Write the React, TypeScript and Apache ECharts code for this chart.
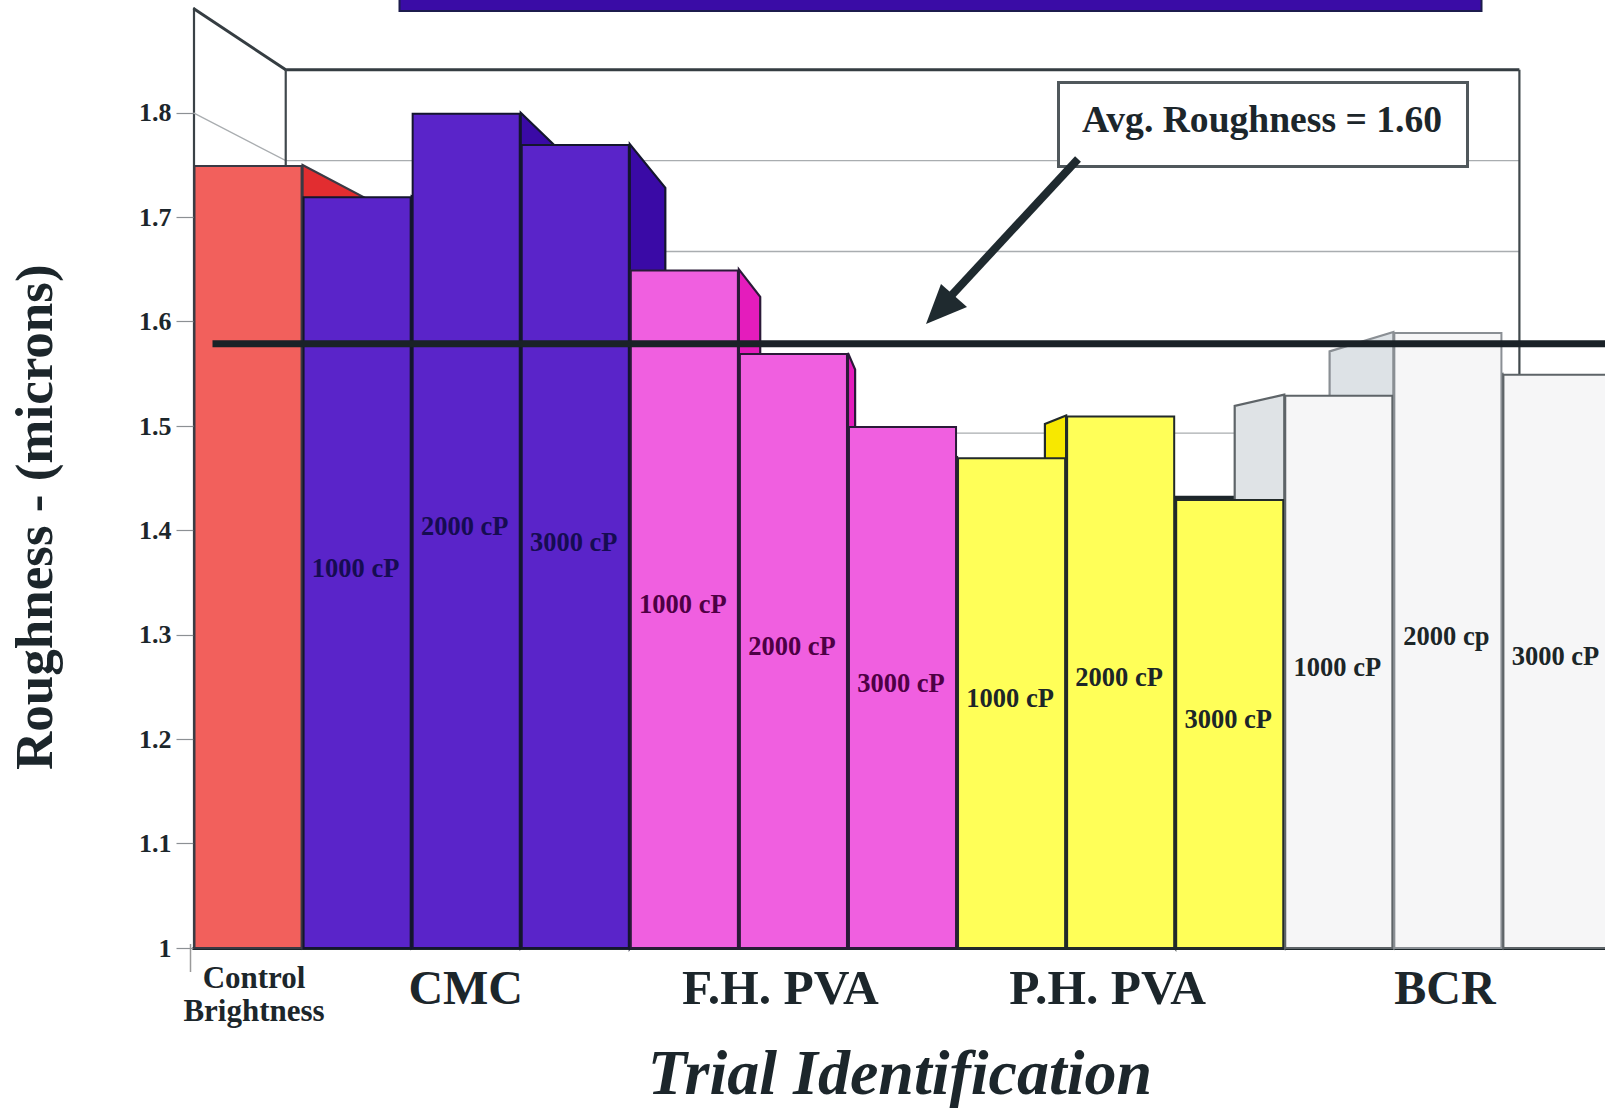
import React, { useEffect, useRef } from "react";
import * as echarts from "echarts";

// Roughness per trial, left to right.
const trialNames = ["Control", "CMC 1000", "CMC 2000", "CMC 3000", "FH 1000", "FH 2000", "FH 3000", "PH 1000", "PH 2000", "PH 3000", "BCR 1000", "BCR 2000", "BCR 3000"];
const roughness = [1.75, 1.72, 1.8, 1.77, 1.65, 1.57, 1.5, 1.47, 1.51, 1.43, 1.53, 1.59, 1.55];
const barLabels = ["", "1000 cP", "2000 cP", "3000 cP", "1000 cP", "2000 cP", "3000 cP", "1000 cP", "2000 cP", "3000 cP", "1000 cP", "2000 cp", "3000 cP"];
const groupLabels = ["{ctl|Control}\n{ctl|Brightness}", "", "{cmc|CMC}", "", "", "{fh|F.H. PVA}", "", "", "{ph|P.H. PVA}", "", "", "{bcr|BCR}", ""];

// Appearance of each trial group.
const frontColors = ["#f2605c", "#5a24c9", "#5a24c9", "#5a24c9", "#f05fe0", "#f05fe0", "#f05fe0", "#ffff58", "#ffff58", "#ffff58", "#f6f6f7", "#f6f6f7", "#f6f6f7"];
const sideColors = ["#e22d30", "#3a0aa6", "#3a0aa6", "#3a0aa6", "#e41cbc", "#e41cbc", "#e41cbc", "#f7e800", "#f7e800", "#f7e800", "#dfe3e6", "#dde2e6", "#dde2e6"];
const edgeColors = ["#3a3a44", "#14162e", "#14162e", "#14162e", "#2a1a38", "#2a1a38", "#2a1a38", "#222a2a", "#222a2a", "#222a2a", "#5e6468", "#8a8f94", "#5e6468"];
const labelColors = ["#111", "#160c52", "#160c52", "#160c52", "#4e0044", "#4e0044", "#4e0044", "#1c2628", "#1c2628", "#1c2628", "#1c2628", "#1c2628", "#1c2628"];

const yTicks = [1, 1.1, 1.2, 1.3, 1.4, 1.5, 1.6, 1.7, 1.8];
const wallLevels = [1.5, 1.6, 1.7, 1.8, 1.9];
const averageRoughness = 1.6;

// One-point perspective of the box the bars stand in.
const DEPTH = 0.13;
const VANISH_X = 903;
const VANISH_Y = 481;
const backX = (x: number) => x + DEPTH * (VANISH_X - x);
const backY = (y: number) => y + DEPTH * (VANISH_Y - y);

const INK = "#1c262b";
const SERIF = '"Liberation Serif", serif';

function renderWall(params: any, api: any) {
  const level = api.value(1);
  const cs = params.coordSys;
  const left = cs.x;
  const right = cs.x + cs.width;
  const y = api.coord([0, level])[1];
  const isTop = level >= 1.9;
  const style = { stroke: isTop ? "#353d42" : "#a9adb0", lineWidth: isTop ? 3 : 1.3, fill: "none" };
  const children: any[] = [
    { type: "polyline", shape: { points: [[left, y], [backX(left), backY(y)], [backX(right), backY(y)]] }, style },
  ];
  if (isTop) {
    const floor = cs.y + cs.height;
    const edge = { stroke: "#40484c", lineWidth: 2.2, fill: "none" };
    children.push({ type: "line", shape: { x1: backX(left), y1: backY(y), x2: backX(left), y2: floor }, style: edge });
    children.push({ type: "line", shape: { x1: backX(right), y1: backY(y), x2: backX(right), y2: floor }, style: edge });
  }
  return { type: "group", children };
}

function renderSide(params: any, api: any) {
  const i = api.value(0);
  const [cx, y] = api.coord([i, api.value(1)]);
  const band = api.size([1, 0])[0];
  const floor = params.coordSys.y + params.coordSys.height;
  const x0 = cx - band / 2;
  const x1 = cx + band / 2;
  const children: any[] = [];
  const stroke = edgeColors[i];
  const edgeX = x1 < VANISH_X ? x1 : x0 > VANISH_X ? x0 : null;
  if (edgeX !== null) {
    children.push({
      type: "polygon",
      shape: { points: [[edgeX, y], [backX(edgeX), backY(y)], [backX(edgeX), backY(floor)], [edgeX, floor]] },
      style: { fill: sideColors[i], stroke, lineWidth: 2.2 },
    });
  }
  if (y > VANISH_Y) {
    children.push({
      type: "polygon",
      shape: { points: [[x0, y], [x1, y], [backX(x1), backY(y)], [backX(x0), backY(y)]] },
      style: { fill: INK, stroke: INK, lineWidth: 2 },
    });
  }
  return { type: "group", children };
}

function renderAverage(params: any, api: any) {
  const cs = params.coordSys;
  const y = backY(api.coord([0, api.value(1)])[1]) + 1.5;
  return {
    type: "line",
    shape: { x1: cs.x + 19, y1: y, x2: cs.x + cs.width, y2: y },
    style: { stroke: "#1a2227", lineWidth: 7 },
  };
}

export default function App() {
  const ref = useRef<HTMLDivElement>(null);

  useEffect(() => {
    const chart = echarts.init(ref.current!, null, { renderer: "svg" });
    chart.setOption({
      animation: false,
      backgroundColor: "#ffffff",
      grid: { left: 193.5, top: 8.4, width: 1418, height: 939.6, containLabel: false, outerBoundsMode: "none" },
      xAxis: {
        type: "category",
        data: groupLabels,
        axisLine: { show: true, lineStyle: { color: INK, width: 3 } },
        axisTick: { show: false },
        axisLabel: {
          interval: 0,
          margin: 13,
          color: INK,
          fontFamily: SERIF,
          fontWeight: "bold",
          rich: {
            ctl: { fontFamily: SERIF, fontWeight: "bold", fontSize: 31, lineHeight: 33, color: INK, padding: [0, 0, 0, 12] },
            cmc: { fontFamily: SERIF, fontWeight: "bold", fontSize: 48, lineHeight: 52, color: INK, padding: [0, 1, 0, 0] },
            fh: { fontFamily: SERIF, fontWeight: "bold", fontSize: 49.5, lineHeight: 52, color: INK, padding: [0, 26, 0, 0] },
            ph: { fontFamily: SERIF, fontWeight: "bold", fontSize: 49.5, lineHeight: 52, color: INK, padding: [0, 26, 0, 0] },
            bcr: { fontFamily: SERIF, fontWeight: "bold", fontSize: 48, lineHeight: 52, color: INK, padding: [0, 6, 0, 0] },
          },
        },
        name: "Trial Identification",
        nameLocation: "middle",
        nameGap: 92,
        nameTextStyle: { fontFamily: SERIF, fontWeight: "bold", fontStyle: "italic", fontSize: 64, color: INK, padding: [0, 5, 0, 0] },
      },
      yAxis: {
        type: "value",
        min: 1,
        max: 1.9,
        interval: 0.1,
        splitLine: { show: false },
        axisLine: { show: true, lineStyle: { color: "#3a4247", width: 2.2 } },
        axisTick: { show: true, length: 17, customValues: yTicks, lineStyle: { color: "#8c9094", width: 1.2 } },
        axisLabel: {
          customValues: yTicks,
          margin: 22,
          color: INK,
          fontFamily: SERIF,
          fontWeight: "bold",
          fontSize: 26,
          formatter: (v: number) => String(Math.round(v * 10) / 10),
        },
        name: "Roughness - (microns)",
        nameLocation: "middle",
        nameGap: 133,
        nameTextStyle: { fontFamily: SERIF, fontWeight: "bold", fontSize: 53, color: INK, padding: [0, 78, 0, 0] },
      },
      series: [
        {
          name: "Box",
          type: "custom",
          z: 1,
          silent: true,
          renderItem: renderWall,
          encode: { x: 0, y: 1 },
          data: wallLevels.map((v) => [0, v]),
        },
        {
          name: "Depth",
          type: "custom",
          z: 2,
          silent: true,
          renderItem: renderSide,
          encode: { x: 0, y: 1 },
          data: roughness.map((v, i) => [i, v]),
        },
        {
          name: "Roughness",
          type: "bar",
          z: 3,
          silent: true,
          barWidth: "100%",
          data: roughness.map((v, i) => ({
            name: trialNames[i],
            value: v,
            itemStyle: { color: frontColors[i], borderColor: edgeColors[i], borderWidth: 2 },
            label: { color: labelColors[i] },
          })),
          label: {
            show: true,
            position: "inside",
            offset: [-1.5, -5],
            fontFamily: SERIF,
            fontWeight: "bold",
            fontSize: 26.5,
            formatter: (p: any) => barLabels[p.dataIndex],
          },
        },
        {
          name: "Average",
          type: "custom",
          z: 4,
          silent: true,
          renderItem: renderAverage,
          encode: { x: 0, y: 1 },
          data: [[0, averageRoughness]],
        },
      ],
      graphic: [
        { type: "rect", z: 10, shape: { x: 399.5, y: -4, width: 1082, height: 15 }, style: { fill: "#3a0ca6", stroke: "#1c1c4c", lineWidth: 2 } },
        { type: "line", z: 10, shape: { x1: 190.5, y1: 944, x2: 190.5, y2: 972 }, style: { stroke: "#9a9a9a", lineWidth: 1.5 } },
        { type: "rect", z: 10, shape: { x: 1058.5, y: 82.5, width: 409, height: 84 }, style: { fill: "#ffffff", stroke: "#50585c", lineWidth: 3 } },
        {
          type: "text",
          z: 11,
          x: 1262,
          y: 119,
          style: { text: "Avg. Roughness = 1.60", fill: INK, font: `bold 37.6px ${SERIF}`, textAlign: "center", textVerticalAlign: "middle" },
        },
        { type: "line", z: 12, shape: { x1: 1078, y1: 159, x2: 950, y2: 297 }, style: { stroke: "#1f2a2f", lineWidth: 8 } },
        { type: "polygon", z: 12, shape: { points: [[926, 324], [941, 284], [967, 307]] }, style: { fill: "#1f2a2f" } },
      ],
    });
    return () => chart.dispose();
  }, []);

  return <div ref={ref} style={{ position: "fixed", left: 0, top: 0, width: 1605, height: 1109, background: "#fff" }} />;
}
